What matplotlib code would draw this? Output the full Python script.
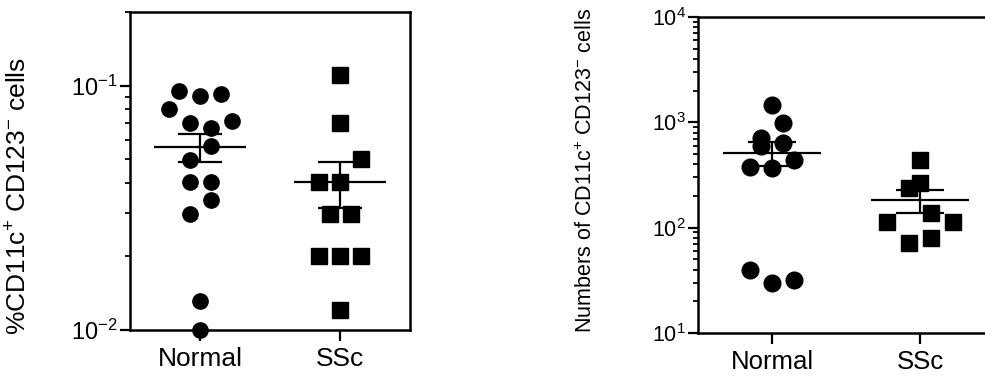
import numpy as np
import matplotlib.pyplot as plt
from matplotlib.ticker import LogLocator, NullFormatter

plt.rcParams['font.family'] = ['Liberation Sans', 'DejaVu Sans']
plt.rcParams['mathtext.fontset'] = 'custom'
plt.rcParams['mathtext.rm'] = 'Liberation Sans'
plt.rcParams['mathtext.it'] = 'Liberation Sans:italic'
plt.rcParams['mathtext.bf'] = 'Liberation Sans:bold'

groups = ['Normal', 'SSc']

# left panel: % CD11c+ CD123- cells
pct_normal = [0.0948, 0.0904, 0.092, 0.080, 0.0703, 0.0671, 0.0714, 0.0568,
              0.0498, 0.0402, 0.0402, 0.0341, 0.0298, 0.0131, 0.0100]
pct_normal_col = [-2, 0, 2, -3, -1, 1, 3, 1, -1, -1, 1, 1, -1, 0, 0]
pct_ssc = [0.110, 0.0703, 0.0502, 0.0402, 0.0402, 0.0298, 0.0298,
           0.020, 0.020, 0.020, 0.0121]
pct_ssc_col = [0, 0, 2, -2, 0, -1, 1, -2, 0, 2, 0]

# right panel: numbers of CD11c+ CD123- cells
num_normal = [1459, 990, 710, 596, 630, 378, 365, 438, 40, 30, 32]
num_normal_col = [0, 1, -1, -1, 1, -2, 0, 2, -2, 0, 2]
num_ssc = [438, 236, 264, 137, 114, 114, 71, 79]
num_ssc_col = [0, -1, 0, 1, -3, 3, -1, 1]


def draw_panel(ax, data, cols, ylim, ylabel, ms, label_fs, tick_fs, xfs):
    markers = ['o', 's']
    for i, (vals, col) in enumerate(zip(data, cols)):
        pos = i + 1
        x = pos + np.array(col) * 0.075
        ax.plot(x, vals, markers[i], color='black', ms=ms, ls='none',
                clip_on=False, zorder=3)
        m = np.mean(vals)
        sem = np.std(vals, ddof=1) / np.sqrt(len(vals))
        ax.hlines(m, pos - 0.33, pos + 0.33, color='black', lw=1.6, zorder=4)
        ax.hlines([m - sem, m + sem], pos - 0.16, pos + 0.16, color='black',
                  lw=1.6, zorder=4)
        ax.vlines(pos, m - sem, m + sem, color='black', lw=1.6, zorder=4)

    ax.set_yscale('log')
    ax.set_ylim(*ylim)
    ax.set_xlim(0.5, 2.5)
    ax.set_xticks([1, 2])
    ax.set_xticklabels(groups, fontsize=xfs)
    ax.yaxis.set_major_locator(LogLocator(base=10, numticks=10))
    ax.yaxis.set_minor_locator(LogLocator(base=10, subs=np.arange(2, 10), numticks=20))
    ax.yaxis.set_minor_formatter(NullFormatter())
    ax.tick_params(axis='y', which='major', length=7, width=1.6, labelsize=tick_fs, pad=2)
    ax.tick_params(axis='y', which='minor', length=3.5, width=1.3)
    ax.tick_params(axis='x', which='major', length=8, width=1.6, pad=4)
    for s in ax.spines.values():
        s.set_linewidth(1.8)
    ax.set_ylabel(ylabel, fontsize=label_fs)


fig = plt.figure(figsize=(9.85, 3.78), dpi=100)
ax1 = fig.add_axes([130 / 985, 48 / 378, 280 / 985, 318 / 378])
ax2 = fig.add_axes([698 / 985, 45 / 378, 296 / 985, 316 / 378])

draw_panel(ax1, [pct_normal, pct_ssc], [pct_normal_col, pct_ssc_col],
           (0.01, 0.2), '%CD11c$^{+}$ CD123$^{-}$ cells', 11, 19, 17, 19)
ax1.yaxis.set_label_coords(-0.35, 0.42)

draw_panel(ax2, [num_normal, num_ssc], [num_normal_col, num_ssc_col],
           (10, 1e4), 'Numbers of CD11c$^{+}$ CD123$^{-}$ cells', 12, 15.5, 15.5, 18.5)
ax2.yaxis.set_label_coords(-0.341, 0.516)

fig.savefig('out.png', dpi=100)
